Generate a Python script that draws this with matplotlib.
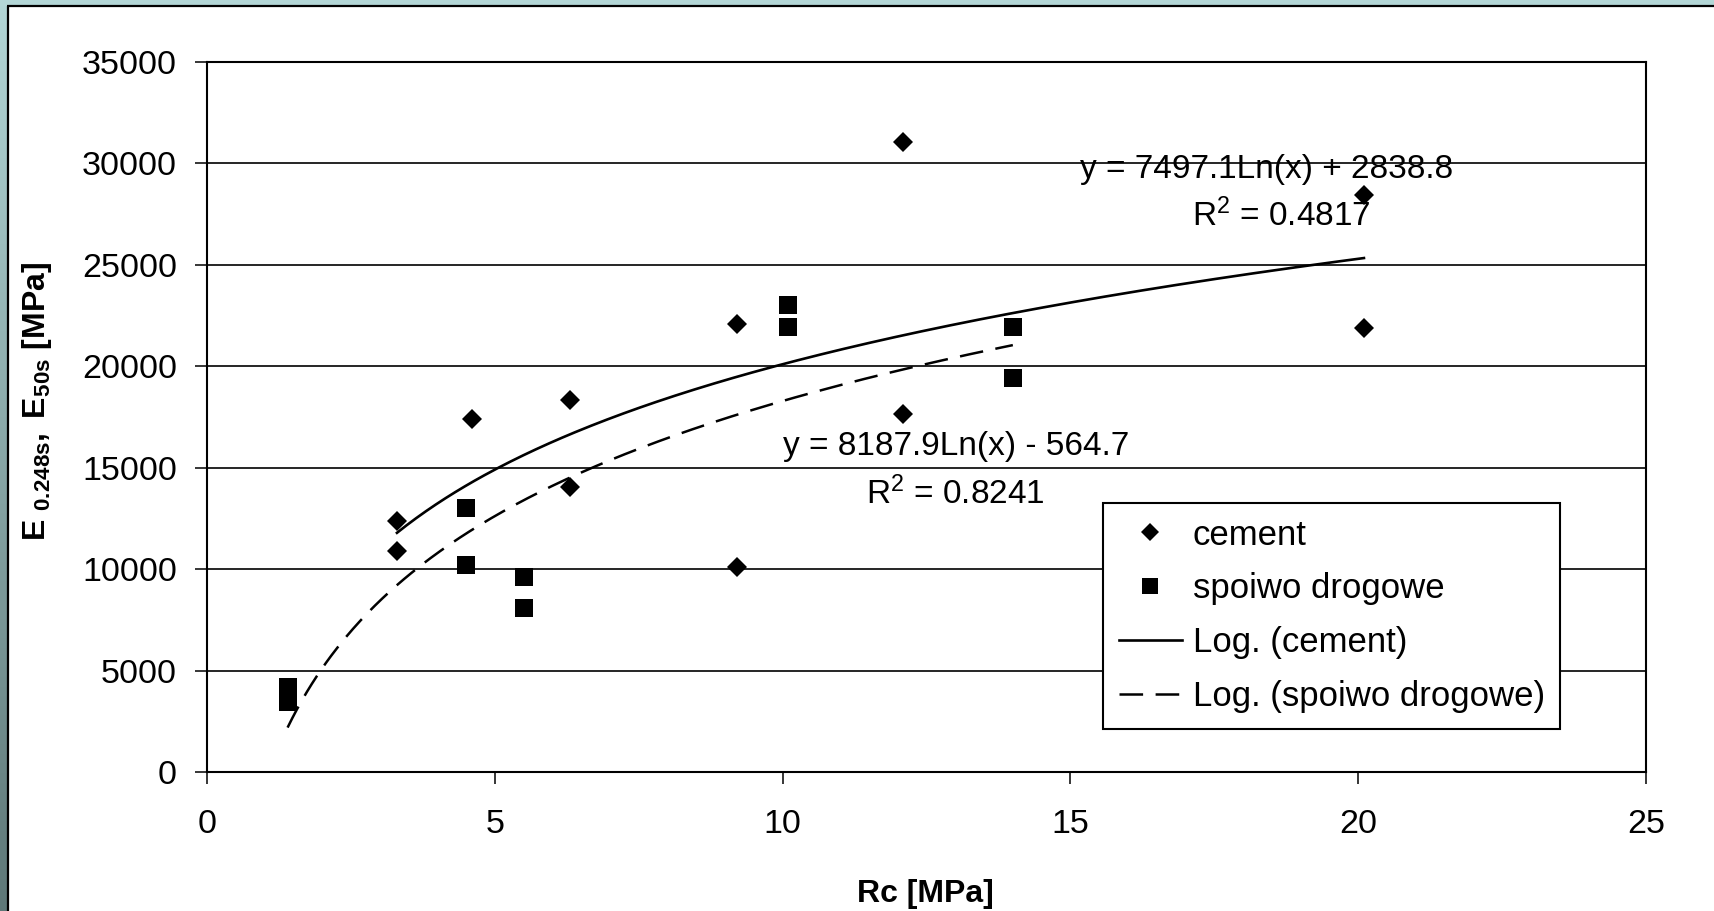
import numpy as np
import matplotlib
matplotlib.use('Agg')
import matplotlib.pyplot as plt
from matplotlib.lines import Line2D

# ---------------- data ----------------
cement_rc = [3.3, 3.3, 4.6, 6.3, 6.3, 9.2, 9.2, 12.1, 12.1, 20.1, 20.1]
cement_e = [10900, 12350, 17400, 18350, 14050, 22100, 10100, 31050, 17650, 28450, 21900]
spoiwo_rc = [1.4, 1.4, 4.5, 4.5, 5.5, 5.5, 10.1, 10.1, 14.0, 14.0]
spoiwo_e = [4200, 3450, 13000, 10200, 9600, 8100, 23000, 21950, 21950, 19400]
cement_fit = (7497.1, 2838.8)      # y = a*ln(x) + b
spoiwo_fit = (8187.9, -564.7)
cement_r2 = 0.4817
spoiwo_r2 = 0.8241
x_ticks = [0, 5, 10, 15, 20, 25]
y_ticks = [0, 5000, 10000, 15000, 20000, 25000, 30000, 35000]
legend_labels = ['cement', 'spoiwo drogowe', 'Log. (cement)', 'Log. (spoiwo drogowe)']
x_label = 'Rc [MPa]'
y_label = r'$\mathbf{E\ }_{\mathbf{0.248s}}\mathbf{,\ E}_{\mathbf{50s}}\mathbf{\ [MPa]}$'

# ---------------- style ----------------
plt.rcParams['font.family'] = ['Liberation Sans', 'DejaVu Sans']
plt.rcParams['mathtext.fontset'] = 'custom'
plt.rcParams['mathtext.rm'] = 'Liberation Sans'
plt.rcParams['mathtext.it'] = 'Liberation Sans:italic'
plt.rcParams['mathtext.bf'] = 'Liberation Sans:bold'
plt.rcParams['lines.scale_dashes'] = False

W, H = 1715, 911
fig = plt.figure(figsize=(W / 100, H / 100), dpi=100, facecolor='white')

# background frame (teal band + black border line)
bg = fig.add_axes([0, 0, 1, 1], zorder=-10)
bg.set_xlim(0, W)
bg.set_ylim(H, 0)
bg.axis('off')
grad = np.linspace(0, 1, 256)[:, None]
top_c = np.array([0.70, 0.84, 0.84])
bot_c = np.array([0.37, 0.47, 0.47])
img = top_c[None, None, :] * (1 - grad[:, :, None]) + bot_c[None, None, :] * grad[:, :, None]
bg.imshow(img, extent=(0, 7.5, H, 0), aspect='auto', interpolation='bilinear')
bg.add_patch(plt.Rectangle((0, 0), W, 5.5, color=top_c, lw=0))
bg.plot([7.5, W], [6.3, 6.3], color='black', lw=1.6, solid_capstyle='butt')
bg.plot([8.3, 8.3], [5.5, H], color='black', lw=1.6, solid_capstyle='butt')

# main axes
ax = fig.add_axes([207 / W, 1 - 772 / H, 1439 / W, 710 / H])
ax.set_xlim(0, 25)
ax.set_ylim(0, 35000)
ax.set_xticks(x_ticks)
ax.set_yticks(y_ticks)
ax.yaxis.grid(True, color='black', lw=1.2)
ax.set_axisbelow(True)
for s in ax.spines.values():
    s.set_color('black')
    s.set_linewidth(1.5)
ax.tick_params(axis='both', direction='out', length=8.6, width=1.1, labelsize=24.5, color='black')
ax.tick_params(axis='y', pad=13)
ax.tick_params(axis='x', pad=18)

# trend lines
xc = np.linspace(min(cement_rc), max(cement_rc), 300)
ax.plot(xc, cement_fit[0] * np.log(xc) + cement_fit[1], color='black', lw=1.9, zorder=3)
xs = np.linspace(min(spoiwo_rc), max(spoiwo_rc), 300)
ax.plot(xs, spoiwo_fit[0] * np.log(xs) + spoiwo_fit[1], color='black', lw=1.8,
        dashes=(17, 9), zorder=3)

# points
ax.plot(cement_rc, cement_e, ls='none', marker='D', ms=10.2, color='black', mew=0, zorder=4)
ax.plot(spoiwo_rc, spoiwo_e, ls='none', marker='s', ms=12.5, color='black', mew=0, zorder=4)

# equations
ax.text(18.40, 29281, 'y = %.1fLn(x) + %.1f' % cement_fit, ha='center', va='baseline', fontsize=24)
ax.text(18.66, 26915, r'R$^2$ = %.4f' % cement_r2, ha='center', va='baseline', fontsize=24)
ax.text(13.01, 15627, 'y = %.1fLn(x) - %.1f' % (spoiwo_fit[0], -spoiwo_fit[1]),
        ha='center', va='baseline', fontsize=24)
ax.text(13.0, 13211, r'R$^2$ = %.4f' % spoiwo_r2, ha='center', va='baseline', fontsize=24)

# legend
handles = [
    Line2D([], [], ls='none', marker='D', ms=9.5, color='black', mew=0),
    Line2D([], [], ls='none', marker='s', ms=12, color='black', mew=0),
    Line2D([], [], color='black', lw=1.9),
    Line2D([], [], color='black', lw=1.8, dashes=(17, 9)),
]
leg = ax.legend(handles, legend_labels, loc='upper left', bbox_to_anchor=(0.623, 0.379),
                borderaxespad=0, frameon=True, fancybox=False, edgecolor='black',
                framealpha=1, fontsize=25, handlelength=1.8, handletextpad=0.32,
                labelspacing=0.6, borderpad=0.45)
leg.get_frame().set_linewidth(1.5)

# axis labels
fig.text(925 / W, 9 / H, x_label, ha='center', va='baseline', fontsize=23, fontweight='bold')
fig.text(37 / W, 1 - 401 / H, y_label, ha='center', va='center', rotation=90, fontsize=23)

fig.savefig('out.png', dpi=100, facecolor='white')
